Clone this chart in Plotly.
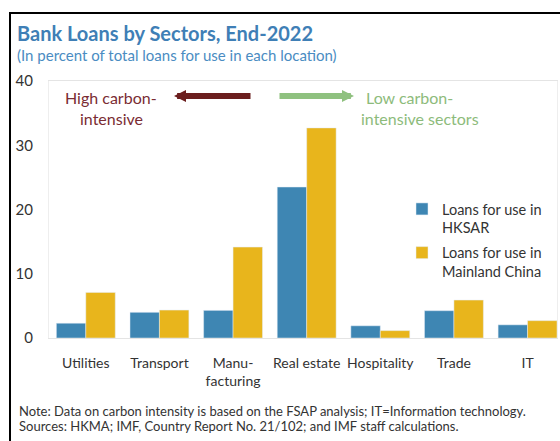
import plotly.graph_objects as go

categories = ["Utilities", "Transport", "Manu-<br>facturing", "Real estate", "Hospitality", "Trade", "IT"]
hksar = [2.3, 4.0, 4.3, 23.5, 1.9, 4.25, 2.05]
mainland = [7.1, 4.35, 14.15, 32.7, 1.15, 5.9, 2.7]
series_names = ["Loans for use in<br>HKSAR", "Loans for use in<br>Mainland China"]
y_ticks = [0, 10, 20, 30, 40]

W, H = 560, 441
L, R, T, B = 49, 3, 81, 103
PW, PH = W - L - R, H - T - B

def px_x(x):
    return (x - L) / PW

def px_y(y):
    return (H - B - y) / PH

FONT = "Lato"
BLUE = "#3E86B3"
YELLOW = "#E8B51C"

fig = go.Figure()
fig.add_trace(go.Bar(x=categories, y=hksar, name=series_names[0], marker_color=BLUE,
                     legendgroup="a"))
fig.add_trace(go.Bar(x=categories, y=mainland, name=series_names[1], marker_color=YELLOW,
                     legendgroup="b"))

ann = []
def text(x, y, s, size, color, xanchor="center"):
    ann.append(dict(x=px_x(x), y=px_y(y), xref="paper", yref="paper", text=s,
                    showarrow=False, xanchor=xanchor, yanchor="middle",
                    font=dict(family=FONT, size=size, color=color)))

ann.append(dict(x=px_x(15), y=px_y(33), xref="paper", yref="paper",
                text="<b>Bank Loans by Sectors, End-2022</b>", showarrow=False,
                xanchor="left", yanchor="middle",
                font=dict(family=FONT, size=20, color="#3F7FB6")))
text(15, 55, "(In percent of total loans for use in each location)", 15, "#4A8CC2", "left")
text(111, 97, "High carbon-", 16, "#7A2C33")
text(111, 118, "intensive", 16, "#7A2C33")
text(409, 97, "Low carbon-", 16, "#8DBB7B")
text(420, 118, "intensive sectors", 16, "#8DBB7B")
text(17, 411, "Note: Data on carbon intensity is based on the FSAP analysis; IT=Information technology.",
     13, "#333333", "left")
text(17, 426, "Sources: HKMA; IMF, Country Report No. 21/102; and IMF staff calculations.",
     13, "#333333", "left")

# arrows
ann.append(dict(x=px_x(174), y=px_y(96), xref="paper", yref="paper", ax=78, ay=0,
                showarrow=True, text="", arrowhead=2, arrowsize=0.4, arrowwidth=6,
                arrowcolor="#6B1E1E", standoff=0))
ann.append(dict(x=px_x(354), y=px_y(96), xref="paper", yref="paper", ax=-76, ay=0,
                showarrow=True, text="", arrowhead=2, arrowsize=0.4, arrowwidth=6,
                arrowcolor="#8FC17F", standoff=0))

fig.update_layout(
    width=W, height=H,
    margin=dict(l=L, r=R, t=T, b=B, pad=0),
    paper_bgcolor="white", plot_bgcolor="white",
    barmode="group", bargap=0.2, bargroupgap=0,
    font=dict(family=FONT, size=14, color="#333333"),
    showlegend=True,
    legend=dict(x=px_x(402), y=px_y(193), xanchor="left", yanchor="top",
                font=dict(family=FONT, size=14.5, color="#333333"),
                bgcolor="rgba(0,0,0,0)", valign="top", tracegroupgap=3,
                itemwidth=30),
    annotations=ann,
    shapes=[dict(type="rect", xref="paper", yref="paper",
                 x0=px_x(10), x1=px_x(575), y0=px_y(460), y1=px_y(13),
                 line=dict(color="black", width=2), fillcolor="rgba(0,0,0,0)")],
)
fig.update_xaxes(range=[-0.5, 6.4], showgrid=False, zeroline=False,
                 showline=True, linecolor="#E4E4E4", linewidth=1, mirror=True,
                 ticks="", tickfont=dict(family=FONT, size=14, color="#333333"),
                 ticklabelstandoff=12)
fig.update_yaxes(range=[0, 40], tickvals=y_ticks, showgrid=False, zeroline=False,
                 showline=True, linecolor="#EEEEEE", linewidth=1, mirror=True,
                 ticks="", tickfont=dict(family=FONT, size=15, color="#333333"),
                 ticklabelstandoff=12)

fig.write_html("out.html", config={"displayModeBar": False},
               post_script="document.body.style.margin='0';")
